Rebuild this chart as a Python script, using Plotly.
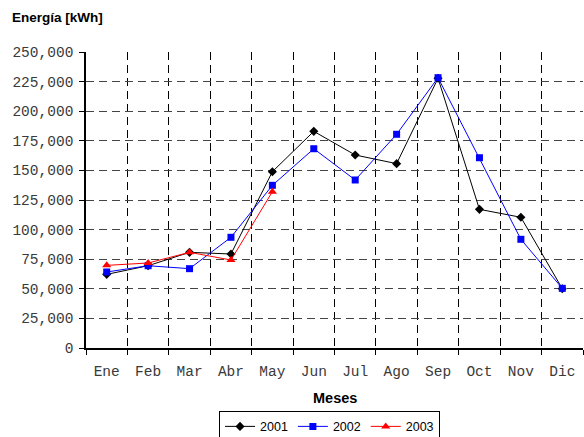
import plotly.graph_objects as go

months = ["Ene", "Feb", "Mar", "Abr", "May", "Jun", "Jul", "Ago", "Sep", "Oct", "Nov", "Dic"]
y2001 = [62200, 69500, 80800, 79400, 148900, 183000, 163000, 155700, 227800, 117100, 110400, 50100]
y2002 = [64200, 69500, 67000, 93500, 137400, 168300, 141900, 180500, 228300, 160700, 91800, 50400]
y2003 = [69800, 71800, 80800, 74300, 132000]

fig = go.Figure()
fig.add_trace(go.Scatter(x=months, y=y2001, name="2001", mode="lines+markers",
                         line=dict(color="black", width=1),
                         marker=dict(symbol="diamond", size=7, color="black")))
fig.add_trace(go.Scatter(x=months, y=y2002, name="2002", mode="lines+markers",
                         line=dict(color="blue", width=1),
                         marker=dict(symbol="square", size=7, color="blue")))
fig.add_trace(go.Scatter(x=months[:len(y2003)], y=y2003, name="2003", mode="lines+markers",
                         line=dict(color="red", width=1),
                         marker=dict(symbol="triangle-up", size=8, color="red")))

mono = dict(family="Liberation Mono, Courier New, monospace", size=14.5, color="#3a3a3a")

fig.update_layout(
    width=584, height=437,
    margin=dict(l=86, r=1, t=52, b=89, autoexpand=False),
    paper_bgcolor="white", plot_bgcolor="white",
    font=dict(family="Liberation Sans, Arial, sans-serif", size=12, color="black"),
    showlegend=True,
    legend=dict(orientation="h", x=0.49, xanchor="center", y=-0.212, yanchor="top",
                bordercolor="black", borderwidth=1, font=dict(size=12.5),
                itemwidth=30, tracegroupgap=0),
    annotations=[
        dict(text="<b>Energía [kWh]</b>", xref="paper", yref="paper", x=-0.153, y=1.118,
             xanchor="left", yanchor="middle", showarrow=False, font=dict(size=13.5)),
        dict(text="<b>Meses</b>", xref="paper", yref="paper", x=0.5, y=-0.169,
             xanchor="center", yanchor="middle", showarrow=False, font=dict(size=14.5)),
    ],
)
fig.update_xaxes(type="category", tickson="boundaries", showgrid=True, griddash="8px,5px",
                 gridcolor="black", gridwidth=1, showline=True, linecolor="black", linewidth=1.5,
                 ticks="outside", ticklen=5, tickcolor="black", tickfont=mono,
                 ticklabelstandoff=9, automargin=False, range=[-0.5, 11.5])
fig.update_yaxes(range=[0, 250000], tickvals=list(range(0, 250001, 25000)),
                 tickformat=",d", showgrid=True, griddash="8px,5px", gridcolor="#444444", gridwidth=1.3,
                 showline=True, linecolor="black", linewidth=1.5, zeroline=False,
                 ticks="outside", ticklen=5, tickcolor="black", tickfont=mono,
                 ticklabelstandoff=3, automargin=False)

fig.write_html("out.html", config={"displayModeBar": False},
               post_script="document.body.style.margin='0';document.body.style.overflow='hidden';")
